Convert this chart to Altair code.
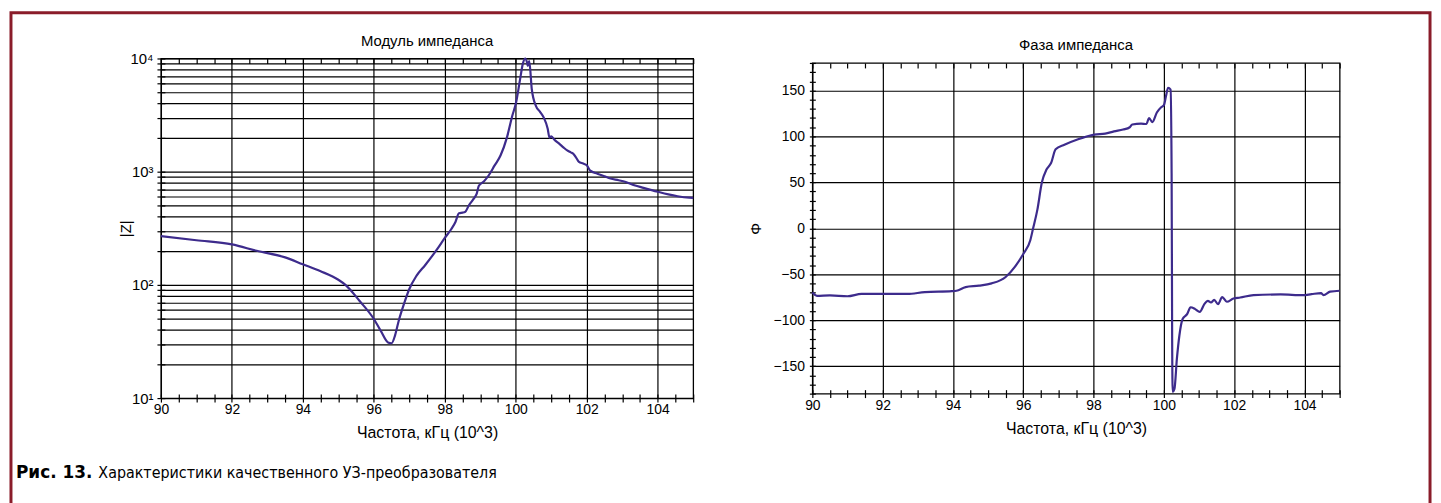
import altair as alt
import pandas as pd

# ---------------- data ----------------
z_freq = [90.0, 91.0, 92.0, 92.7, 93.5, 94.0, 94.5, 95.0, 95.2, 95.6, 96.0, 96.2,
          96.4, 96.5, 96.6, 96.7, 96.85, 97.0, 97.2, 97.45, 97.8, 98.0, 98.18, 98.3,
          98.4, 98.5, 98.57, 98.68, 98.8, 98.9, 98.96, 99.1, 99.24, 99.4, 99.57,
          99.75, 99.9, 100.01, 100.12, 100.2, 100.27, 100.31, 100.34, 100.38, 100.45,
          100.57, 100.68, 100.79, 100.9, 100.95, 101.0, 101.1, 101.23, 101.35, 101.45,
          101.55, 101.62, 101.7, 101.78, 101.9, 102.0, 102.1, 102.3, 102.5, 102.67,
          102.9, 103.1, 103.34, 103.6, 104.0, 104.3, 104.56, 104.89, 105.0]
z_mod = [270, 248, 228, 200, 175, 152, 132, 111, 100, 72, 50, 39,
         31, 30.5, 36, 48, 68, 92, 120, 150, 210, 260, 310, 360,
         430, 435, 440, 505, 570, 640, 750, 820, 930, 1130, 1390,
         2000, 3100, 4100, 6500, 9000, 10000, 9400, 8600, 9500, 5400,
         3800, 3400, 3000, 2400, 2000, 2050, 1900, 1760, 1630, 1540,
         1480, 1440, 1330, 1220, 1180, 1140, 1020, 960, 910, 870,
         840, 810, 760, 720, 665, 630, 607, 590, 588]

p_freq = [90.0, 90.13, 90.5, 91.0, 91.4, 92.0, 92.7, 93.2, 93.97, 94.1, 94.36,
          94.74, 95.1, 95.5, 95.76, 96.0, 96.2, 96.28, 96.4, 96.53, 96.66, 96.79,
          96.92, 97.17, 97.56, 98.02, 98.33, 98.58, 98.84, 99.03, 99.1, 99.35,
          99.5, 99.58, 99.67, 99.8, 99.93, 100.0, 100.06, 100.12, 100.19, 100.22,
          100.235, 100.25, 100.3, 100.37, 100.44, 100.53, 100.66, 100.76, 100.89,
          101.02, 101.15, 101.25, 101.34, 101.43, 101.54, 101.66, 101.79, 101.98,
          102.17, 102.55, 103.32, 103.96, 104.2, 104.47, 104.54, 104.73, 105.0]
p_phase = [-70, -73.5, -73, -74, -71.5, -71.5, -71.5, -69.5, -68.5, -68, -64,
           -62.5, -60, -53, -42, -28, -13, 0, 20, 50, 64, 71,
           86, 91, 97, 102, 103, 105.5, 107.5, 110, 113, 114,
           113.5, 120, 115.5, 126, 132, 134, 144, 153, 151, 60,
           -120, -178, -175, -142, -117, -99, -93.5, -86, -88,
           -91, -82.6, -79, -80.8, -78, -82.6, -75, -80, -76.5,
           -75.4, -72.8, -72, -72.8, -71.7, -70.6, -72.8, -69, -68]

x_ticks = [90 + i / 2 for i in range(31)]
z_ticks = [m * 10 ** k for k in range(1, 4) for m in range(1, 10)] + [10000]
phi_ticks = list(range(-180, 181, 10))

titles = ["Модуль импеданса", "Фаза импеданса"]
x_title = "Частота, кГц (10^3)"
y_titles = ["|Z|", "Φ"]
caption_bold = "Рис. 13."
caption_text = "Характеристики качественного УЗ-преобразователя"

# ---------------- style ----------------
FONT = "Liberation Sans"
CAPFONT = "DejaVu Sans Condensed, sans-serif"
CAPBOLD = "DejaVu Sans, sans-serif"
LINE = "#3d2b8c"
FRAME = "#8a1c2a"
W1, H1 = 536, 342
W2, H2 = 531, 333

zdf = pd.DataFrame({"f": z_freq, "z": z_mod})
pdf = pd.DataFrame({"f": p_freq, "phi": p_phase})

xscale = alt.Scale(domain=[90, 105], nice=False, zero=False)
zscale = alt.Scale(type="log", domain=[10, 10000], nice=False)
pscale = alt.Scale(domain=[-180, 180], nice=False, zero=False)

one = alt.Data(values=[{"k": 0}])


def bottom_axis():
    return alt.Axis(
        orient="bottom", values=x_ticks, offset=-4, tickSize=8, tickColor="black",
        tickWidth=1.2, domain=False, grid=True, gridColor="black", gridWidth=1.2,
        gridOpacity={"condition": {"test": "datum.value % 2 == 0", "value": 1}, "value": 0},
        labelExpr="datum.value % 2 == 0 && datum.value < 105 ? format(datum.value, 'd') : ''",
        labelOverlap=False, labelFlush=False, labelFont=FONT, labelFontSize=14,
        labelColor="black", labelPadding=1, title=x_title, titleFont=FONT,
        titleFontSize=16, titleFontWeight="normal", titleColor="black", titlePadding=8)


def top_axis():
    return alt.Axis(orient="top", values=x_ticks, offset=-5, tickSize=5,
                    tickColor="black", tickWidth=1.2, domain=False, grid=False,
                    labels=False, title=None)


def panel_title(text, width):
    return alt.Chart(one).mark_text(
        text=text, font=FONT, fontSize=15, fontWeight="normal", align="center",
        baseline="bottom", color="black").encode(x=alt.value(width / 2), y=alt.value(-10))


left_line = alt.Chart(zdf).mark_line(color=LINE, strokeWidth=2.2, interpolate="monotone").encode(
    x=alt.X("f:Q", scale=xscale, axis=bottom_axis()),
    y=alt.Y("z:Q", scale=zscale, axis=alt.Axis(
        orient="left", values=z_ticks, offset=-4, tickSize=8, tickColor="black",
        tickWidth=1.2, domain=False, grid=True, gridColor="black", gridWidth=1.2,
        labelExpr="datum.value == 10 ? '10¹' : datum.value == 100 ? '10²' : "
                  "datum.value == 1000 ? '10³' : datum.value == 10000 ? '10⁴' : ''",
        labelOverlap=False, labelFlush=False, labelFont=FONT, labelFontSize=15,
        labelColor="black", labelPadding=4, title=y_titles[0], titleFont=FONT,
        titleFontSize=15, titleFontWeight="normal", titleColor="black", titlePadding=-3)),
)
left_top = alt.Chart(zdf).mark_line(opacity=0).encode(
    x=alt.X("f:Q", scale=xscale, axis=top_axis()),
    y=alt.Y("z:Q", scale=zscale, axis=None),
)

frame = alt.Chart(one).mark_rect(fillOpacity=0, stroke=FRAME, strokeWidth=3).encode(
    x=alt.value(-151), x2=alt.value(1278), y=alt.value(-46), y2=alt.value(470))
cap1 = alt.Chart(one).mark_text(
    text=caption_bold, font=CAPBOLD, fontSize=17, fontWeight="bold", align="left",
    baseline="alphabetic", color="black").encode(x=alt.value(-146), y=alt.value(422))
cap2 = alt.Chart(one).mark_text(
    text=caption_text, font=CAPFONT, fontSize=16, fontWeight="normal", align="left",
    baseline="alphabetic", color="black").encode(x=alt.value(-63), y=alt.value(422))

left = alt.layer(frame, left_line, left_top, panel_title(titles[0], W1), cap1, cap2).resolve_axis(
    x="independent", y="independent").properties(width=W1, height=H1)

right_line = alt.Chart(pdf).mark_line(color=LINE, strokeWidth=2.2, interpolate="monotone").encode(
    x=alt.X("f:Q", scale=xscale, axis=bottom_axis()),
    y=alt.Y("phi:Q", scale=pscale, axis=alt.Axis(
        orient="left", values=phi_ticks, offset=-3, tickSize=6, tickColor="black",
        tickWidth=1.2, domain=False, grid=True, gridColor="black", gridWidth=1.2,
        gridOpacity={"condition": {"test": "datum.value % 50 == 0", "value": 1}, "value": 0},
        labelExpr="datum.value % 50 == 0 ? format(datum.value, 'd') : ''",
        labelOverlap=False, labelFlush=False, labelFont=FONT, labelFontSize=14,
        labelColor="black", labelPadding=5, title=y_titles[1], titleFont=FONT,
        titleFontSize=15, titleFontWeight="normal", titleColor="black", titlePadding=10)),
)
right_top = alt.Chart(pdf).mark_line(opacity=0).encode(
    x=alt.X("f:Q", scale=xscale, axis=top_axis()),
    y=alt.Y("phi:Q", scale=pscale, axis=None),
)
right = alt.layer(right_line, right_top, panel_title(titles[1], W2)).resolve_axis(
    x="independent", y="independent").properties(width=W2, height=H2)

chart = alt.hconcat(left, right, spacing=120, bounds="flush", center=True).properties(
    padding={"left": 0, "top": 0, "right": 0, "bottom": 0},
    background="white",
).configure_view(stroke="black", strokeWidth=1.3)

chart.save("out.html", embed_options={"renderer": "svg", "actions": False})
